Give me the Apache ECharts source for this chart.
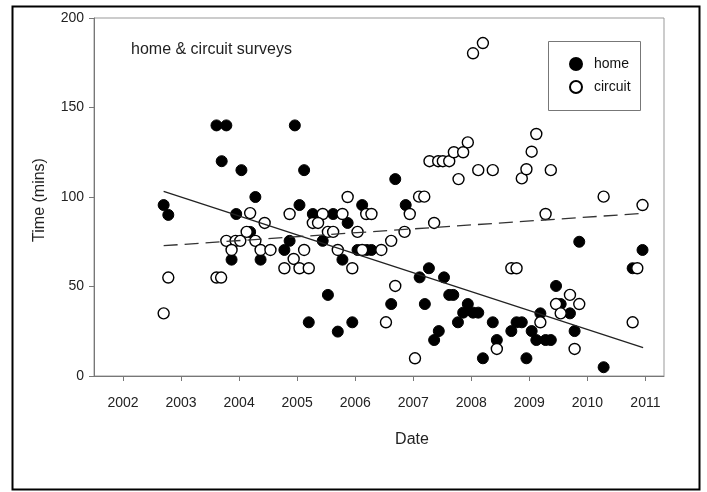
<!DOCTYPE html>
<html>
<head>
<meta charset="utf-8">
<script src="https://cdn.jsdelivr.net/npm/echarts@6/dist/echarts.min.js"></script>
<style>html,body{margin:0;padding:0;background:#fff;}#c{width:707px;height:492px;}</style>
</head>
<body>
<div id="c"></div>
<script>
var yearTicks = [2002, 2003, 2004, 2005, 2006, 2007, 2008, 2009, 2010, 2011];
var yTicks = [0, 50, 100, 150, 200];

var homeData = [
  [2002.70,95.5],[2002.78,90],[2003.61,140],[2003.78,140],[2003.70,120],[2004.04,115],
  [2004.28,100],[2003.95,90.5],[2004.19,80.5],[2003.87,65],[2004.37,65],[2004.96,140],
  [2005.12,115],[2005.04,95.5],[2005.27,90.5],[2005.62,90.5],[2005.87,85.5],[2006.12,95.5],
  [2006.69,110],[2006.87,95.5],[2004.87,75.5],[2005.44,75.5],[2004.78,70.4],[2006.04,70.4],
  [2006.20,70.4],[2006.28,70.4],[2005.78,65],[2005.53,45.3],[2006.62,40.2],[2005.20,30],
  [2005.95,30],[2005.70,24.8],[2007.27,60.2],[2007.11,55.1],[2007.53,55.1],[2007.62,45.3],
  [2007.69,45.3],[2007.20,40.2],[2007.94,40.2],[2007.86,35.4],[2008.03,35.4],[2008.12,35.4],
  [2007.77,30],[2008.37,30],[2007.44,25.1],[2007.36,20.1],[2008.44,20.1],[2008.20,9.9],
  [2008.69,25.1],[2008.78,30],[2008.87,30],[2009.04,25.1],[2008.95,9.9],[2009.12,20.1],
  [2009.28,20.1],[2009.37,20.1],[2009.19,35],[2009.54,40.2],[2009.70,35],[2009.46,50.3],
  [2009.78,25.1],[2009.86,75],[2010.28,4.9],[2010.78,60.2],[2010.95,70.4]
];

var circuitData = [
  [2002.70,35],[2002.78,55],[2003.61,55],[2003.69,55],[2003.78,75.5],[2003.94,75.5],
  [2004.02,75.5],[2004.28,75.5],[2003.87,70.4],[2004.37,70.4],[2004.54,70.4],[2004.19,91],
  [2004.44,85.5],[2004.13,80.5],[2004.87,90.5],[2005.44,90.5],[2005.78,90.5],[2006.19,90.5],
  [2006.28,90.5],[2005.27,85.5],[2005.36,85.5],[2005.53,80.5],[2005.62,80.5],[2006.04,80.5],
  [2005.87,100],[2006.62,75.5],[2005.12,70.4],[2005.70,70.4],[2006.12,70.4],[2006.45,70.4],
  [2004.94,65.4],[2004.78,60.2],[2005.04,60.2],[2005.20,60.2],[2005.95,60.2],[2006.69,50.3],
  [2006.53,30],[2007.03,9.9],[2006.94,90.5],[2006.85,80.5],[2007.10,100.2],[2007.19,100.2],
  [2007.36,85.5],[2007.28,120],[2007.43,120],[2007.51,120],[2007.62,120],[2007.70,125],
  [2007.86,125],[2007.94,130.5],[2007.78,110],[2008.12,115],[2008.37,115],[2008.03,180.3],
  [2008.20,186],[2008.44,15.1],[2008.69,60.2],[2008.78,60.2],[2008.87,110.4],[2008.95,115.5],
  [2009.04,125.3],[2009.12,135.2],[2009.37,115],[2009.28,90.5],[2009.19,30],[2009.46,40.2],
  [2009.54,35],[2009.70,45.3],[2009.86,40.2],[2009.78,15.1],[2010.28,100.2],[2010.86,60.2],
  [2010.78,30],[2010.95,95.5]
];

var homeTrend = [[2002.70,103.2],[2010.96,15.9]];
var circuitTrend = [[2002.70,72.8],[2010.93,90.8]];

var FONT = '"Liberation Sans", Arial, sans-serif';
var chart = echarts.init(document.getElementById('c'), null, {renderer: 'canvas'});
chart.setOption({
  animation: false,
  backgroundColor: '#fff',
  grid: {left: 94, right: 43, top: 18, bottom: 116, show: true, borderColor: '#999', borderWidth: 1, backgroundColor: 'transparent'},
  xAxis: {
    type: 'value', min: 2001.5, max: 2011.32,
    axisLine: {show: true, onZero: false, lineStyle: {color: '#777', width: 1}},
    axisTick: {show: true, length: 5, customValues: yearTicks, lineStyle: {color: '#777'}},
    axisLabel: {customValues: yearTicks, margin: 20, fontFamily: FONT, fontSize: 14, color: '#222', formatter: function (v) { return String(v); }},
    splitLine: {show: false}
  },
  yAxis: {
    type: 'value', min: 0, max: 200, interval: 50,
    axisLine: {show: true, onZero: false, lineStyle: {color: '#777', width: 1}},
    axisTick: {show: true, length: 5, lineStyle: {color: '#777'}},
    axisLabel: {margin: 10, fontFamily: FONT, fontSize: 14, color: '#222'},
    splitLine: {show: false}
  },
  legend: {
    left: 564, top: 52, orient: 'vertical', itemGap: 9, itemWidth: 12, itemHeight: 12,
    textStyle: {fontFamily: FONT, fontSize: 14, color: '#111', padding: [0, 0, 0, 7]},
    data: [
      {name: 'home', icon: 'circle'},
      {name: 'circuit', icon: 'circle'}
    ]
  },
  series: [
    {name: 'home', type: 'scatter', data: homeData, symbol: 'circle', symbolSize: 11,
      itemStyle: {color: '#000', borderColor: '#000', borderWidth: 1, opacity: 1}},
    {name: 'circuit', type: 'scatter', data: circuitData, symbol: 'circle', symbolSize: 11,
      itemStyle: {color: '#fff', borderColor: '#000', borderWidth: 1.4, opacity: 1}},
    {name: 'homeTrend', type: 'line', data: homeTrend, symbol: 'none', silent: true,
      lineStyle: {color: '#222', width: 1.3, type: 'solid'}, z: 3},
    {name: 'circuitTrend', type: 'line', data: circuitTrend, symbol: 'none', silent: true,
      lineStyle: {color: '#333', width: 1.3, type: [14, 7]}, z: 3}
  ],
  graphic: [
    {type: 'rect', left: 10, top: 4, shape: {width: 687, height: 483}, style: {fill: 'none', stroke: '#000', lineWidth: 2}, silent: true},
    {type: 'rect', left: 546, top: 39, shape: {width: 92, height: 69}, style: {fill: 'none', stroke: '#777', lineWidth: 1}, silent: true, z: 10},
    {type: 'text', left: 131, top: 42, style: {text: 'home & circuit surveys', font: '16px ' + FONT, fill: '#222'}},
    {type: 'text', x: 412, y: 440, style: {text: 'Date', font: '16px ' + FONT, fill: '#222', align: 'center', verticalAlign: 'middle'}},
    {type: 'text', x: 40, y: 200, rotation: Math.PI / 2, style: {text: 'Time (mins)', font: '16px ' + FONT, fill: '#222', align: 'center', verticalAlign: 'middle'}}
  ]
});
</script>
</body>
</html>
